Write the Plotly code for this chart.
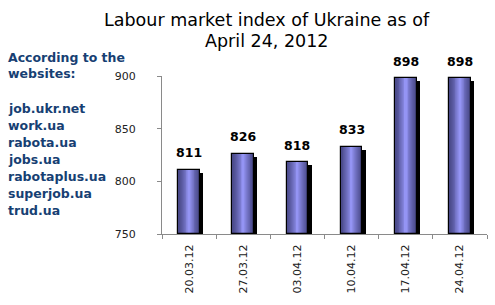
import plotly.graph_objects as go

dates = ["20.03.12", "27.03.12", "03.04.12", "10.04.12", "17.04.12", "24.04.12"]
index_values = [811, 826, 818, 833, 898, 898]
sites = ["job.ukr.net", "work.ua", "rabota.ua", "jobs.ua", "rabotaplus.ua", "superjob.ua", "trud.ua"]
header_lines = ["According to the", "websites:"]

W, H = 495, 305
L, R, T, B = 162, 8, 76, 71
PH = H - T - B
YMIN, YMAX = 750, 900

def py(p):
    return (H - B - p) / PH

def px(p):
    return (p - L) / (W - L - R)

bar_w = 0.40
fig = go.Figure()

# shadow
px_per_unit = PH / (YMAX - YMIN)
fig.add_trace(go.Bar(
    x=dates, y=[v - YMIN - 3 / px_per_unit for v in index_values], base=YMIN,
    width=bar_w, offset=-bar_w / 2 + 0.06,
    marker=dict(color="#000000", line=dict(width=0)),
    hoverinfo="skip", showlegend=False))

# gradient layers
edge = (0x4a, 0x4a, 0x8a)
center = (0x94, 0x94, 0xf4)
n = 12
for i in range(n):
    t = i / (n - 1)
    w = bar_w * (1 - t * 0.92)
    tt = t ** 1.3
    c = tuple(int(edge[k] + (center[k] - edge[k]) * tt) for k in range(3))
    fig.add_trace(go.Bar(
        x=dates, y=[v - YMIN for v in index_values], base=YMIN,
        width=w, offset=-w / 2,
        marker=dict(color="rgb(%d,%d,%d)" % c, line=dict(width=0)),
        hoverinfo="skip", showlegend=False))

# outline on top
fig.add_trace(go.Bar(
    x=dates, y=[v - YMIN for v in index_values], base=YMIN,
    width=bar_w, offset=-bar_w / 2,
    marker=dict(color="rgba(0,0,0,0)", line=dict(width=1.2, color="#000000")),
    hoverinfo="skip", showlegend=False))

annotations = []
for d, v in zip(dates, index_values):
    annotations.append(dict(x=d, y=v, xref="x", yref="y", text=str(v),
                            showarrow=False, yanchor="middle", yshift=17,
                            font=dict(family="DejaVu Sans", size=12.5, color="#000000",
                                      weight="bold")))

blue = "#173f73"
for i, line in enumerate(header_lines):
    annotations.append(dict(x=px(6), y=py(57 + 17 * i), xref="paper", yref="paper",
                            text=line, showarrow=False, xanchor="left", yanchor="middle",
                            font=dict(family="DejaVu Sans", size=12.5, color=blue, weight="bold")))
for i, s in enumerate(sites):
    annotations.append(dict(x=px(6), y=py(108 + 17 * i), xref="paper", yref="paper",
                            text=s, showarrow=False, xanchor="left", yanchor="middle",
                            font=dict(family="DejaVu Sans", size=12.5, color=blue, weight="bold")))

annotations.append(dict(x=px(267), y=py(20), xref="paper", yref="paper",
                        text="Labour market index of Ukraine as of", showarrow=False,
                        xanchor="center", yanchor="middle",
                        font=dict(family="DejaVu Sans", size=17.5, color="#000000")))
annotations.append(dict(x=px(267), y=py(41), xref="paper", yref="paper",
                        text="April 24, 2012", showarrow=False,
                        xanchor="center", yanchor="middle",
                        font=dict(family="DejaVu Sans", size=17.5, color="#000000")))

fig.update_layout(
    width=W, height=H, margin=dict(l=L, r=R, t=T, b=B),
    paper_bgcolor="white", plot_bgcolor="white",
    barmode="overlay", bargap=0,
    annotations=annotations,
    xaxis=dict(type="category", showline=True, linecolor="#8a8a8a", linewidth=1,
               ticks="outside", tickson="boundaries", ticklen=4, tickcolor="#8a8a8a",
               tickangle=-90, tickfont=dict(family="DejaVu Sans", size=11, color="#222222"),
               ticklabelstandoff=5, showgrid=False, fixedrange=True),
    yaxis=dict(range=[YMIN, YMAX], tickvals=[750, 800, 850, 900], showline=True,
               linecolor="#8a8a8a", linewidth=1, ticks="outside", ticklen=4,
               tickcolor="#8a8a8a", showgrid=False, zeroline=False,
               tickfont=dict(family="DejaVu Sans", size=11, color="#222222"),
               ticklabelstandoff=19, fixedrange=True),
    showlegend=False,
)

fig.write_html("out.html", config={"displayModeBar": False})
